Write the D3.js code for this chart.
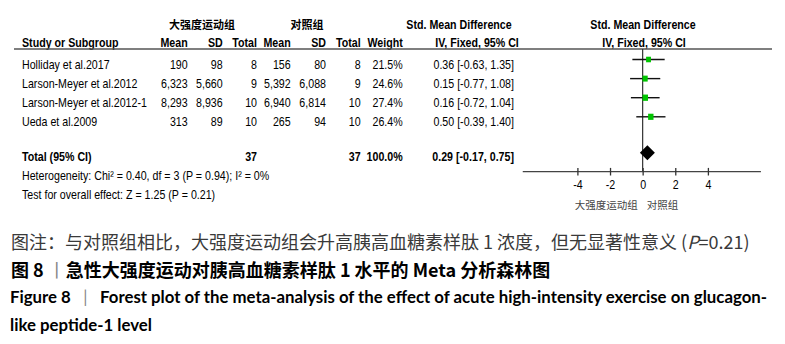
<!DOCTYPE html>
<html><head><meta charset="utf-8">
<script src="https://cdn.jsdelivr.net/npm/d3@7"></script>
<style>
body{margin:0;background:#fff;}
svg{display:block;}
</style></head>
<body>
<svg id="chart" width="785" height="344"></svg>
<script>
// ---------------- data ----------------
const studies   = ["Holliday et al.2017", "Larson-Meyer et al.2012", "Larson-Meyer et al.2012-1", "Ueda et al.2009"];
const expMean   = [190, 6323, 8293, 313];
const expSD     = [98, 5660, 8936, 89];
const expTotal  = [8, 9, 10, 10];
const ctlMean   = [156, 5392, 6940, 265];
const ctlSD     = [80, 6088, 6814, 94];
const ctlTotal  = [8, 9, 10, 10];
const weights   = [21.5, 24.6, 27.4, 26.4];
const smd       = [0.36, 0.15, 0.16, 0.50];
const ciLow     = [-0.63, -0.77, -0.72, -0.39];
const ciHigh    = [1.35, 1.08, 1.04, 1.40];
const pooled    = {smd: 0.29, lo: -0.17, hi: 0.75, expN: 37, ctlN: 37, weight: 100.0};
const axisTicks = [-4, -2, 0, 2, 4];
const axisExtent = [-7.35, 7.25];
const groupExp  = "大强度运动组";
const groupCtl  = "对照组";
const hetText   = "Heterogeneity: Chi² = 0.40, df = 3 (P = 0.94); I² = 0%";
const testText  = "Test for overall effect: Z = 1.25 (P = 0.21)";
const caption1a = "图注：与对照组相比，大强度运动组会升高胰高血糖素样肽 1 浓度，但无显著性意义 (";
const caption1b = "P";
const caption1c = "=0.21)";
const caption2a = "图 8 ";
const caption2b = "丨";
const caption2c = "急性大强度运动对胰高血糖素样肽 1 水平的 Meta 分析森林图";
const caption3a = "Figure 8 \u2002";
const caption3b = "|";
const caption3c = "\u2002 Forest plot of the meta-analysis of the effect of acute high-intensity exercise on glucagon-";
const caption4  = "like peptide-1 level";

// ---------------- layout ----------------
const SANS = "'Liberation Sans',Arial,sans-serif";
const CJK = "'Noto Sans CJK SC','Noto Sans',sans-serif";
const LAT = "Lato,'Open Sans',sans-serif";
const NARROW_X = 0.82;
const fs = 13, fsb = 13;
const svg = d3.select("#chart");
svg.append("rect").attr("width",785).attr("height",344).attr("fill","#fff");

const x = d3.scaleLinear().domain([-4, 4]).range([577.4, 707.9]);
const rowY = d3.scaleLinear().domain([0, 1]).range([59.5, 78.6]);
const totalY = 152.7, hetY = 180.2, testY = 198.6, axisY = 171.7;
const ruleY = 49;
const loc = d3.formatLocale({decimal: ".", thousands: ",", grouping: [3], currency: ["", ""], minus: "-"});
const fmt = loc.format(",");
const fmt2 = loc.format(".2f");

// column right edges
const col = {mean1:187.7, sd1:222.7, tot1:257, mean2:290.7, sd2:326, tot2:360.7, weight:402.7, ci:514};

function txt(xp, yp, s, opts={}) {
  const fam = opts.family || SANS;
  const sx = opts.sx != null ? opts.sx : (fam === SANS ? NARROW_X : 1);
  return svg.append("text")
    .attr("transform", `translate(${xp},${yp}) scale(${sx},1)`)
    .attr("font-family", fam)
    .attr("font-size", opts.size || fs)
    .attr("font-weight", opts.weight || "normal")
    .attr("text-anchor", opts.anchor || "start")
    .attr("fill", opts.fill || "#000")
    .text(s);
}

// group headers
txt(202, 29, groupExp, {family: CJK, size: 11, weight: "bold", anchor: "middle"});
txt(307, 29, groupCtl, {family: CJK, size: 11, weight: "bold", anchor: "middle"});
txt(459, 28.5, "Std. Mean Difference", {weight: "bold", anchor: "middle", size: fsb});
txt(643, 28.5, "Std. Mean Difference", {weight: "bold", anchor: "middle", size: fsb});

// column headers
const hdrY = 47;
txt(22, hdrY, "Study or Subgroup", {weight: "bold", size: fsb});
[["Mean",col.mean1],["SD",col.sd1],["Total",col.tot1],["Mean",col.mean2],["SD",col.sd2],["Total",col.tot2],["Weight",col.weight]]
  .forEach(([s,c]) => txt(c, hdrY, s, {weight: "bold", anchor: "end", size: fsb}));
txt(477, hdrY, "IV, Fixed, 95% CI", {weight: "bold", anchor: "middle", size: fsb});
txt(644, hdrY, "IV, Fixed, 95% CI", {weight: "bold", anchor: "middle", size: fsb});

// header rule
svg.append("line").attr("x1", 14).attr("x2", 772).attr("y1", ruleY).attr("y2", ruleY)
  .attr("stroke", "#555").attr("stroke-width", 1.5);

// study rows
const tOff = 9;
studies.forEach((s, i) => {
  const yb = rowY(i) + tOff;
  txt(22, yb, s);
  txt(col.mean1, yb, fmt(expMean[i]), {anchor: "end"});
  txt(col.sd1, yb, fmt(expSD[i]), {anchor: "end"});
  txt(col.tot1, yb, expTotal[i], {anchor: "end"});
  txt(col.mean2, yb, fmt(ctlMean[i]), {anchor: "end"});
  txt(col.sd2, yb, fmt(ctlSD[i]), {anchor: "end"});
  txt(col.tot2, yb, ctlTotal[i], {anchor: "end"});
  txt(col.weight, yb, weights[i].toFixed(1) + "%", {anchor: "end"});
  txt(col.ci, yb, `${fmt2(smd[i])} [${fmt2(ciLow[i])}, ${fmt2(ciHigh[i])}]`, {anchor: "end"});
});

// total row
const tb = totalY + 8.5;
txt(22, tb, "Total (95% CI)", {weight: "bold", size: fsb});
txt(col.tot1, tb, pooled.expN, {weight: "bold", anchor: "end", size: fsb});
txt(col.tot2, tb, pooled.ctlN, {weight: "bold", anchor: "end", size: fsb});
txt(col.weight, tb, pooled.weight.toFixed(1) + "%", {weight: "bold", anchor: "end", size: fsb});
txt(col.ci, tb, `${fmt2(pooled.smd)} [${fmt2(pooled.lo)}, ${fmt2(pooled.hi)}]`, {weight: "bold", anchor: "end", size: fsb});

txt(22, hetY, hetText);
txt(22, testY, testText);

// ---------------- forest plot ----------------
svg.append("line").attr("x1", x(0)).attr("x2", x(0)).attr("y1", ruleY).attr("y2", axisY)
  .attr("stroke", "#333").attr("stroke-width", 1.2);

svg.selectAll(".ci").data(studies).join("line")
  .attr("x1", (d,i) => x(ciLow[i])).attr("x2", (d,i) => x(ciHigh[i]))
  .attr("y1", (d,i) => rowY(i)).attr("y2", (d,i) => rowY(i))
  .attr("stroke", "#111").attr("stroke-width", 1.4);

svg.selectAll(".sq").data(studies).join("rect")
  .attr("width", (d,i) => Math.sqrt(weights[i]) * 1.05)
  .attr("height", (d,i) => Math.sqrt(weights[i]) * 1.2)
  .attr("x", (d,i) => x(smd[i]) - Math.sqrt(weights[i]) * 0.525)
  .attr("y", (d,i) => rowY(i) - Math.sqrt(weights[i]) * 0.6)
  .attr("fill", "#00c400");

const dh = 7.5;
svg.append("path")
  .attr("d", `M${x(pooled.lo)},${totalY} L${x(pooled.smd)},${totalY-dh} L${x(pooled.hi)},${totalY} L${x(pooled.smd)},${totalY+dh} Z`)
  .attr("fill", "#000");

svg.append("line").attr("x1", x(axisExtent[0])).attr("x2", x(axisExtent[1]))
  .attr("y1", axisY).attr("y2", axisY).attr("stroke", "#444").attr("stroke-width", 1.3);
const axis = d3.axisBottom(x).tickValues(axisTicks).tickSize(4).tickFormat(loc.format("d"));
const ag = svg.append("g").attr("transform", `translate(0,${axisY})`).call(axis);
ag.select(".domain").remove();
ag.selectAll(".tick line").attr("y1", -3.8).attr("y2", 3.8).attr("stroke", "#333").attr("stroke-width", 1.3);
ag.selectAll(".tick text").attr("y", null).attr("dy", null)
  .attr("transform", `translate(0,17) scale(${NARROW_X},1)`)
  .attr("font-family", SANS).attr("font-size", 13).attr("fill", "#000");

txt(x(0) - 5, 209, groupExp, {family: CJK, size: 10.5, anchor: "end", fill: "#444"});
txt(x(0) + 4, 209, groupCtl, {family: CJK, size: 10.5, anchor: "start", fill: "#444"});

// ---------------- captions ----------------
const c1 = svg.append("text").attr("x", 11).attr("y", 249).attr("font-family", CJK).attr("font-size", 18).attr("fill", "#3a3a3a");
c1.append("tspan").text(caption1a);
c1.append("tspan").attr("font-style", "italic").text(caption1b);
c1.append("tspan").text(caption1c);

const c2 = svg.append("text").attr("x", 11).attr("y", 276.5).attr("font-family", CJK).attr("font-size", 18).attr("font-weight", "bold").attr("fill", "#000");
c2.append("tspan").text(caption2a);
c2.append("tspan").attr("font-weight", "normal").attr("fill", "#888").text(caption2b);
c2.append("tspan").text(caption2c);

const c3 = svg.append("text").attr("x", 10).attr("y", 303.3).attr("font-family", LAT).attr("font-size", 16.8).attr("font-weight", "bold").attr("fill", "#000");
c3.append("tspan").text(caption3a);
c3.append("tspan").attr("font-weight", "normal").attr("fill", "#888").text(caption3b);
c3.append("tspan").text(caption3c);

txt(10, 330.5, caption4, {family: LAT, size: 16.8, weight: "bold"});
</script>
</body></html>
